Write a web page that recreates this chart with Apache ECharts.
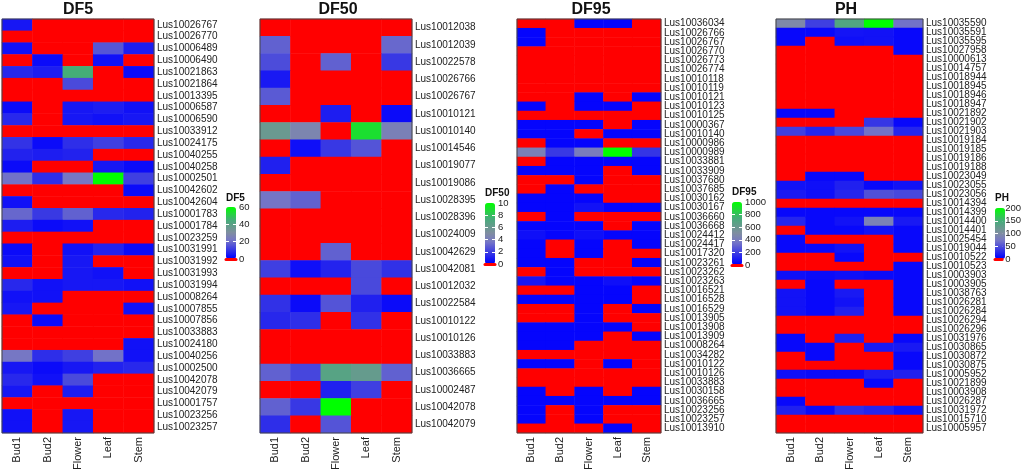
<!DOCTYPE html>
<html><head><meta charset="utf-8">
<script src="https://cdn.jsdelivr.net/npm/echarts@6/dist/echarts.min.js"></script>
<style>html,body{margin:0;padding:0;background:#fff}#c{width:1024px;height:473px}</style>
</head><body><div id="c"></div>
<script>
const tissues = ['Bud1','Bud2','Flower','Leaf','Stem'];

const genesDF5 = ['Lus10026767','Lus10026770','Lus10006489','Lus10006490','Lus10021863','Lus10021864','Lus10013395','Lus10006587','Lus10006590','Lus10033912','Lus10024175','Lus10040255','Lus10040258','Lus10002501','Lus10042602','Lus10042604','Lus10001783','Lus10001784','Lus10023259','Lus10031991','Lus10031992','Lus10031993','Lus10031994','Lus10008264','Lus10007855','Lus10007856','Lus10033883','Lus10024180','Lus10040256','Lus10002500','Lus10042078','Lus10042079','Lus10001757','Lus10023256','Lus10023257'];
const valuesDF5 = [
 [5,0,0,0,0],[0,0,0,0,0],[4,0,0,16,6],[0,3,0,4,0],[8,6,45,0,3],
 [0,0,14,0,0],[0,0,0,0,0],[3,0,5,6,4],[8,0,5,4,5],[0,0,0,0,0],
 [10,3,9,12,8],[7,6,7,0,0],[3,0,0,5,3],[21,9,22,60,12],[0,0,0,0,3],
 [4,0,0,0,0],[19,11,18,8,7],[6,3,4,0,0],[0,0,0,0,0],[3,0,4,7,3],
 [4,0,5,0,0],[0,0,5,4,0],[8,4,5,5,4],[4,4,0,0,0],[5,0,0,0,4],
 [0,3,0,0,0],[0,0,0,0,0],[0,0,0,0,4],[22,9,12,21,4],[5,3,5,7,8],
 [8,4,14,0,0],[5,0,6,0,0],[0,0,0,0,0],[4,0,5,0,0],[4,0,5,0,0]
];
const ticksDF5 = [0,20,40,60];

const genesDF50 = ['Lus10012038','Lus10012039','Lus10022578','Lus10026766','Lus10026767','Lus10010121','Lus10010140','Lus10014546','Lus10019077','Lus10019086','Lus10028395','Lus10028396','Lus10024009','Lus10042629','Lus10042081','Lus10012032','Lus10022584','Lus10010122','Lus10010126','Lus10033883','Lus10036665','Lus10002487','Lus10042078','Lus10042079'];
const valuesDF50 = [
 [0,0,0,0,0],[3.0,0,0,0,3.2],[2.4,0,3.0,0,1.8],[0.9,0,0,0,0],[2.8,0,0,0,0],
 [0,0,1.0,0,0.5],[6.0,4.5,0,9.0,4.2],[0,0.6,1.8,2.6,0],[1.1,0,0,0,0],[0,0,0,0,0],
 [3.6,3.0,0,0,0],[0,0,0,0,0],[0,0,0,0,0],[0,0,3.0,0,0],[2.0,0.6,1.2,2.3,1.6],
 [0,0,0,2.3,0],[1.6,0.5,2.6,1.1,0.5],[1.3,1.5,0,1.6,0],[0,0,0,0,0],[0,0,0,0,0],
 [3.0,2.2,6.8,6.2,3.0],[0,0,1.1,2.0,0],[3.0,1.8,10,0,0],[1.5,0,2.6,0,0]
];
const ticksDF50 = [0,2,4,6,8,10];

const genesDF95 = ['Lus10036034','Lus10026766','Lus10026767','Lus10026770','Lus10026773','Lus10026774','Lus10010118','Lus10010119','Lus10010121','Lus10010123','Lus10010125','Lus10000367','Lus10010140','Lus10000986','Lus10000989','Lus10033881','Lus10033909','Lus10037680','Lus10037685','Lus10030162','Lus10030167','Lus10036660','Lus10036668','Lus10024412','Lus10024417','Lus10017320','Lus10023261','Lus10023262','Lus10023263','Lus10016521','Lus10016528','Lus10016529','Lus10013905','Lus10013908','Lus10013909','Lus10008264','Lus10034282','Lus10010122','Lus10010126','Lus10033883','Lus10030158','Lus10036665','Lus10023256','Lus10023257','Lus10013910'];
const valuesDF95 = [
 [0,0,30,30,0],[30,0,0,0,0],[30,0,0,0,0],[0,0,0,0,0],[0,0,0,0,0],
 [0,0,0,0,0],[0,0,0,0,0],[0,0,0,0,0],[0,0,30,0,30],[30,0,30,30,0],
 [0,0,0,0,0],[30,30,30,0,30],[30,30,0,30,30],[0,30,30,0,0],[420,180,400,1000,170],
 [0,30,30,30,30],[30,30,30,0,30],[0,0,30,0,0],[0,30,0,0,0],[30,30,30,0,0],
 [30,30,70,30,30],[0,30,0,0,0],[30,30,30,0,30],[60,30,60,30,30],[30,0,30,0,30],
 [30,0,30,0,0],[30,30,0,0,30],[0,30,0,0,0],[80,30,30,60,30],[0,0,30,30,0],
 [30,30,30,30,0],[0,0,30,0,30],[0,0,30,0,0],[30,30,30,30,0],[30,30,30,0,30],
 [30,30,0,0,0],[0,0,0,0,0],[30,30,0,30,0],[0,0,0,0,0],[0,0,0,0,0],
 [30,0,30,0,30],[30,30,30,30,30],[30,0,30,0,0],[30,0,30,0,0],[0,0,0,30,0]
];
const ticksDF95 = [0,200,400,600,800,1000];

const genesPH = ['Lus10035590','Lus10035591','Lus10035595','Lus10027958','Lus10000613','Lus10014757','Lus10018944','Lus10018945','Lus10018946','Lus10018947','Lus10021892','Lus10021902','Lus10021903','Lus10019184','Lus10019185','Lus10019186','Lus10019188','Lus10023049','Lus10023055','Lus10023056','Lus10014394','Lus10014399','Lus10014400','Lus10014401','Lus10025454','Lus10019044','Lus10010522','Lus10010523','Lus10003903','Lus10003905','Lus10038763','Lus10026281','Lus10026284','Lus10026294','Lus10026296','Lus10031976','Lus10030865','Lus10030872','Lus10030875','Lus10005952','Lus10021899','Lus10003908','Lus10026287','Lus10031972','Lus10015710','Lus10005957'];
const valuesPH = [
 [95,40,140,200,70],[8,8,15,14,8],[8,0,12,14,8],[0,0,0,0,8],[0,0,0,0,0],
 [0,0,0,0,0],[0,0,0,0,0],[0,0,0,0,0],[0,0,0,0,0],[0,0,0,0,0],
 [8,8,0,0,0],[0,0,0,35,8],[40,25,45,70,25],[0,0,0,0,0],[0,0,0,0,0],
 [0,0,0,0,0],[0,0,0,0,0],[0,8,8,0,0],[14,12,22,8,14],[18,12,25,50,45],
 [0,0,0,0,0],[8,8,8,8,8],[25,8,14,85,18],[0,8,8,14,8],[8,0,0,0,8],
 [8,8,14,0,8],[0,0,8,0,0],[0,0,0,0,8],[12,10,12,10,8],[0,8,0,0,8],
 [14,8,18,0,8],[14,8,14,0,8],[14,8,22,0,8],[0,0,0,0,0],[0,0,0,0,0],
 [8,0,22,0,8],[8,8,0,18,18],[0,8,0,0,8],[0,0,0,0,8],[12,10,10,20,22],
 [0,0,0,8,0],[0,0,0,0,0],[8,0,0,0,0],[22,10,30,25,14],[0,0,0,0,0],[0,0,0,0,0]
];
const ticksPH = [0,50,100,150,200];

// ---- colour ramp: 0 = red, then blue -> grey -> green ----
const keyStops = [[0,[0,0,255]],[0.35,[118,118,198]],[0.5,[128,142,160]],[0.62,[100,156,140]],[0.74,[70,172,122]],[1,[0,255,0]]];
function ramp(f){
  for (let k=1;k<keyStops.length;k++){
    if (f<=keyStops[k][0]){
      const a=keyStops[k-1], b=keyStops[k], t=(f-a[0])/(b[0]-a[0]);
      const c=a[1].map((v,j)=>Math.round(v+(b[1][j]-v)*t));
      return 'rgb('+c.join(',')+')';
    }
  }
  return 'rgb(0,255,0)';
}
const palette=['#ff0000'];
for (let i=0;i<60;i++) palette.push(ramp(i/59));

const FONT = 'Liberation Sans, Arial, sans-serif';
const panels = [
  {name:'DF5',  genes:genesDF5,  values:valuesDF5,  ticks:ticksDF5,  left:2,   width:152, titleX:78,  leg:{x:226, top:207, h:52, ty:198}},
  {name:'DF50', genes:genesDF50, values:valuesDF50, ticks:ticksDF50, left:260, width:152, titleX:338, leg:{x:485, top:203, h:61, ty:193}},
  {name:'DF95', genes:genesDF95, values:valuesDF95, ticks:ticksDF95, left:517, width:144, titleX:591, leg:{x:732, top:202, h:63, ty:192}},
  {name:'PH',   genes:genesPH,   values:valuesPH,   ticks:ticksPH,   left:776, width:147, titleX:846, leg:{x:995, top:208, h:51, ty:198}}
];

const grid=[], xAxis=[], yAxis=[], series=[], visualMap=[], graphic=[];
panels.forEach((p,i)=>{
  grid.push({left:p.left, top:19, width:p.width, height:416, show:true, z:5,
    backgroundColor:'transparent', borderColor:'#444', borderWidth:1});
  xAxis.push({type:'category', gridIndex:i, data:tissues, position:'bottom',
    axisLine:{show:false}, axisTick:{show:false}, splitLine:{show:false},
    axisLabel:{rotate:90, interval:0, fontSize:11, margin:4, color:'#222', fontFamily:FONT}});
  yAxis.push({type:'category', gridIndex:i, data:p.genes, inverse:true, position:'right',
    axisLine:{show:false}, axisTick:{show:false}, splitLine:{show:false},
    axisLabel:{interval:0, fontSize:10, margin:3, color:'#222', fontFamily:FONT}});
  const data=[];
  p.values.forEach((row,r)=>row.forEach((v,c)=>data.push([c,r,v])));
  series.push({type:'heatmap', name:p.name, xAxisIndex:i, yAxisIndex:i, data:data,
    emphasis:{disabled:true}, itemStyle:{borderWidth:0}});
  const mx=p.ticks[p.ticks.length-1];
  visualMap.push({type:'continuous', seriesIndex:i, min:p.ticks[0], max:mx, inRange:{color:palette},
    orient:'vertical', left:p.leg.x, top:p.leg.top, itemWidth:10, itemHeight:p.leg.h,
    padding:0, calculable:false, hoverLink:false, text:null});
  graphic.push({type:'text', x:p.titleX, y:10, z:20,
    style:{text:p.name, font:'bold 16px '+FONT, fill:'#111', align:'center', verticalAlign:'middle', textAlign:'center', textVerticalAlign:'middle'}});
  graphic.push({type:'text', x:p.leg.x, y:p.leg.ty, z:20,
    style:{text:p.name, font:'bold 10px '+FONT, fill:'#111', align:'left', verticalAlign:'middle', textAlign:'left', textVerticalAlign:'middle'}});
});
// legend tick axes
panels.forEach((p,i)=>{
  const g=4+i;
  const mx=p.ticks[p.ticks.length-1];
  grid.push({left:p.leg.x, top:p.leg.top, width:10, height:p.leg.h, show:false});
  xAxis.push({type:'category', gridIndex:g, data:[''], z:12,
    axisLine:{show:true, onZero:false, lineStyle:{color:'#ff0000', width:3}},
    axisTick:{show:false}, axisLabel:{show:false}, splitLine:{show:false}});
  yAxis.push({type:'value', gridIndex:g, min:p.ticks[0], max:mx, interval:p.ticks[1]-p.ticks[0], position:'right', z:10,
    axisLine:{show:false}, axisTick:{show:false},
    axisLabel:{fontSize:9.5, margin:3, color:'#222', fontFamily:FONT, formatter:(v)=>String(v)},
    splitLine:{show:true, showMinLine:false, showMaxLine:false, lineStyle:{color:'#ffffff', width:1, type:[3,4]}}});
});

const chart = echarts.init(document.getElementById('c'), null, {renderer:'canvas'});
chart.setOption({animation:false, backgroundColor:'#fff', textStyle:{fontFamily:FONT},
  grid, xAxis, yAxis, series, visualMap, graphic});
</script></body></html>
